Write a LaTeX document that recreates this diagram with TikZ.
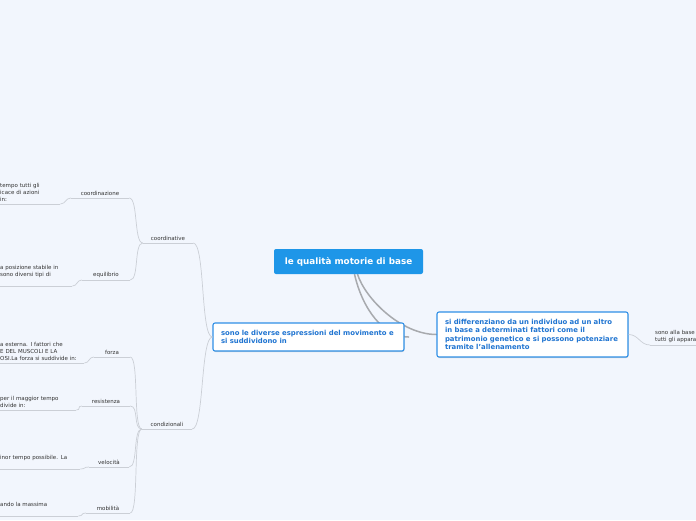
\documentclass[tikz,border=0pt]{standalone}
\usepackage{fontspec}
\setmainfont{DejaVu Sans}
\usetikzlibrary{shadows}
\pgfdeclarelayer{background}
\pgfsetlayers{background,main}
\definecolor{bgcol}{HTML}{F2F6FD}
\definecolor{rootblue}{HTML}{1E96E8}
\definecolor{boxblue}{HTML}{2F8FE6}
\definecolor{boxtext}{HTML}{1F74D1}
\definecolor{linkgrey}{HTML}{A8AAAE}
\definecolor{thingrey}{HTML}{CBCFD6}
\definecolor{textgrey}{HTML}{333333}
\tikzset{
    % Define link styles
    mainlink/.style={
           draw=linkgrey,
           line width=1.5pt,
           line cap=round,},
    sublink/.style={
           draw=thingrey,
           line width=0.7pt,}
}

\begin{document}
\begin{tikzpicture}[x=1pt, y=-1pt,
rootnode/.style={fill=rootblue, rounded corners=2pt, text=white, font=\fontsize{8.8}{10}\selectfont\bfseries, minimum width=149pt, minimum height=25pt, inner sep=0pt},
topicbox/.style={draw=boxblue, line width=1.1pt, fill=white, rounded corners=2pt, text=boxtext, font=\fontsize{6.9}{8.6}\selectfont\bfseries, align=left, text width=175pt, inner xsep=8pt, inner ysep=0pt, drop shadow={shadow xshift=0.4pt, shadow yshift=-1pt, opacity=0.3}},
subtopic/.style={font=\fontsize{5.5}{7}\selectfont, text=textgrey, anchor=south, inner xsep=0pt, inner ysep=2.5pt},
leaf/.style={font=\fontsize{5.5}{7}\selectfont, text=textgrey, align=left, anchor=south west, inner xsep=0pt, inner ysep=2.5pt},
]
\clip (0,0) rectangle (696,520);

%Nodes
\node[rootnode] (root) at (348.5,261.5) {le qualità motorie di base};

\node[topicbox, minimum height=28pt] (expr) at (308.5,337) {sono le diverse espressioni del movimento e\\si suddividono in};
\node[topicbox, minimum height=45pt] (diff) at (532.5,334.5) {si differenziano da un individuo ad un altro\\in base a determinati fattori come il\\patrimonio genetico e si possono potenziare\\tramite l'allenamento};

\node[subtopic, minimum width=50pt] (coordinative) at (168,243) {coordinative};
\node[subtopic, minimum width=50pt] (condizionali) at (167,429) {condizionali};

\node[subtopic, minimum width=58pt] (coordinazione) at (100,198) {coordinazione};
\node[subtopic, minimum width=48pt] (equilibrio) at (106,280) {equilibrio};
\node[subtopic, minimum width=36pt] (forza) at (112,357) {forza};
\node[subtopic, minimum width=48pt] (resistenza) at (106,406) {resistenza};
\node[subtopic, minimum width=40pt] (velocita) at (109,467) {velocità};
\node[subtopic, minimum width=44pt] (mobilita) at (108,513) {mobilità};

\node[leaf, text width=60pt] (coordLeaf) at (0,204) {tempo tutti gli\\icace di azioni\\in:};
\node[leaf, text width=72pt] (equiLeaf) at (0,286) {a posizione stabile in\\sono diversi tipi di\\\mbox{}};
\node[leaf, text width=84pt] (forzaLeaf) at (0,363) {a esterna. I fattori che\\E DEL MUSCOLI E LA\\OSI.La forza si suddivide in:};
\node[leaf, text width=76pt] (resLeaf) at (0,410) {per il maggior tempo\\divide in:};
\node[leaf, text width=80pt] (velLeaf) at (0,469) {inor tempo possibile. La\\\mbox{}};
\node[leaf, text width=78pt] (mobLeaf) at (0,516) {ando la massima\\\mbox{}};
\node[leaf, text width=46pt, inner xsep=5pt] (diffLeaf) at (650,345) {sono alla base\\tutti gli appara};

%Links
\begin{pgfonlayer}{background}
\fill[bgcol] (0,0) rectangle (696,520);
\draw[mainlink] ([xshift=6pt]root.south) .. controls +(8,35) and +(-25,0) .. ([xshift=4pt]expr.east);
\draw[mainlink] ([xshift=9pt]root.south) .. controls +(8,25) and +(-35,0) .. (diff.west);
\end{pgfonlayer}

\foreach \n in {coordinative,condizionali,coordinazione,equilibrio,forza,resistenza,velocita,mobilita,coordLeaf,equiLeaf,forzaLeaf,resLeaf,velLeaf,mobLeaf,diffLeaf}
    \draw[sublink] (\n.south west) -- (\n.south east);

\draw[sublink] (expr.west) .. controls +(-12,0) and +(12,0) .. (coordinative.south east);
\draw[sublink] (expr.west) .. controls +(-12,0) and +(12,0) .. (condizionali.south east);

\foreach \n in {coordinazione,equilibrio}
    \draw[sublink] (coordinative.south west) .. controls +(-9,0) and +(9,0) .. (\n.south east);
\foreach \n in {forza,resistenza,velocita,mobilita}
    \draw[sublink] (condizionali.south west) .. controls +(-9,0) and +(9,0) .. (\n.south east);

\draw[sublink] (coordinazione.south west) .. controls +(-5,0) and +(5,0) .. (coordLeaf.south east);
\draw[sublink] (equilibrio.south west) .. controls +(-5,0) and +(5,0) .. (equiLeaf.south east);
\draw[sublink] (forza.south west) .. controls +(-5,0) and +(5,0) .. (forzaLeaf.south east);
\draw[sublink] (resistenza.south west) .. controls +(-5,0) and +(5,0) .. (resLeaf.south east);
\draw[sublink] (velocita.south west) .. controls +(-5,0) and +(5,0) .. (velLeaf.south east);
\draw[sublink] (mobilita.south west) .. controls +(-5,0) and +(5,0) .. (mobLeaf.south east);
\draw[sublink] (diff.east) .. controls +(10,0) and +(-10,0) .. (diffLeaf.south west);

\end{tikzpicture}
\end{document}
